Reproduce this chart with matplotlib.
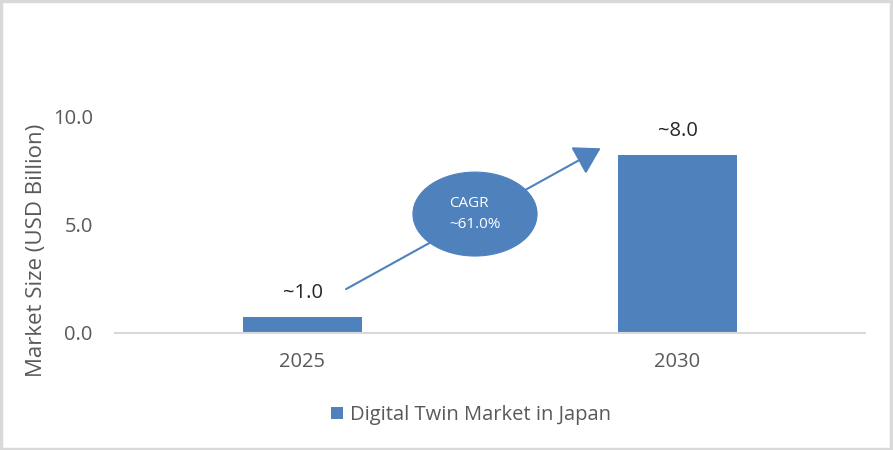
import matplotlib
matplotlib.use("Agg")
import matplotlib.pyplot as plt
from matplotlib.patches import Ellipse, FancyArrowPatch, Rectangle

categories = ["2025", "2030"]
values = [0.74, 8.24]
value_labels = ["~1.0", "~8.0"]
series_name = "Digital Twin Market in Japan"
yticks = [0.0, 5.0, 10.0]
cagr_text = "CAGR\n~61.0%"

BLUE = "#4F81BD"
TXT = "#595959"
GRID = "#D9D9D9"

plt.rcParams['font.family'] = ['Open Sans', 'DejaVu Sans']

fig = plt.figure(figsize=(8.93, 4.5), dpi=100)
ax = fig.add_axes([115/893, 1-332.7/450, 750/893, (332.7-117)/450])

x = list(range(len(categories)))
bars = ax.bar(x, values, width=0.315, color=BLUE, label=series_name, zorder=2)
ax.set_xlim(-0.5, len(categories) - 0.5)
ax.set_ylim(0, 10)
ax.set_xticks(x)
ax.set_xticklabels(categories, fontsize=14.5, color=TXT)
ax.set_yticks(yticks)
ax.set_yticklabels([f"{v:.1f}" for v in yticks], fontsize=14.5, color=TXT)
ax.tick_params(axis='both', length=0)
ax.tick_params(axis='x', pad=14)
ax.tick_params(axis='y', pad=16)
for s in ["top", "right", "left"]:
    ax.spines[s].set_visible(False)
ax.spines["bottom"].set_color(GRID)
ax.spines["bottom"].set_linewidth(1.5)

ax.set_ylabel("Market Size (USD Billion)", fontsize=16, color=TXT)
ax.yaxis.set_label_coords(-0.091, 0.38)

for xi, v, lab in zip(x, values, value_labels):
    ax.annotate(lab, (xi, v), xytext=(0, 17), textcoords="offset points",
                ha="center", va="center", fontsize=14.5, color="#262626",
                annotation_clip=False)

arrow = FancyArrowPatch((0.116, 2.02), (0.795, 8.55), arrowstyle="-|>,head_length=10,head_width=6",
                        mutation_scale=1.6, color=BLUE, lw=1.5, zorder=3, clip_on=False,
                        shrinkA=0, shrinkB=0)
ax.add_patch(arrow)
ell = Ellipse((0.46, 5.5), 0.331, 3.89, facecolor=BLUE, edgecolor=BLUE,
              lw=0.8, zorder=4, clip_on=False)
ax.add_patch(ell)
ax.text(0.39, 5.5, cagr_text, ha="left", va="center", fontsize=11, color="white",
        zorder=5, linespacing=1.5)

leg = fig.legend(handles=[bars], labels=[series_name], loc="center",
                 bbox_to_anchor=(471/893, 1-415/450), frameon=False, fontsize=14.5,
                 handlelength=0.6, handleheight=0.6, handletextpad=0.35)
for t in leg.get_texts():
    t.set_color(TXT)

fig.patches.append(Rectangle((0.001, 0.002), 0.997, 0.995, transform=fig.transFigure,
                             fill=False, edgecolor=GRID, lw=2.5))

fig.savefig("out.png", dpi=100, facecolor="white")
